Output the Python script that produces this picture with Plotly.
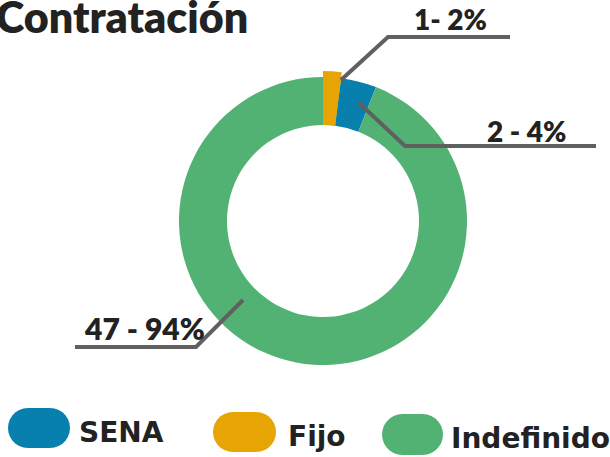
import math
import plotly.graph_objects as go

W, H = 610, 457

# Data
categories = ["Fijo", "SENA", "Indefinido"]
values = [1, 2, 47]
percent_labels = ["1- 2%", "2 - 4%", "47 - 94%"]
colors = {"SENA": "#0780AE", "Fijo": "#E6A503", "Indefinido": "#52B273"}
legend_order = ["SENA", "Fijo", "Indefinido"]

FONT = "Lato"
LEG_FONT = "DejaVu Sans"
TXT = "#222222"
LINE = "#606060"

def px(x):
    return x / W

def py(y):
    return 1 - y / H

CX, CY, R_OUT, R_IN = 323, 221, 144, 96

fig = go.Figure()
fig.add_trace(go.Pie(
    labels=categories, values=values, hole=R_IN / R_OUT, sort=False,
    direction="clockwise", rotation=0,
    marker=dict(colors=[colors[c] for c in categories], line=dict(width=0)),
    textinfo="none", hoverinfo="label+value+percent", showlegend=False,
    domain=dict(x=[px(CX - R_OUT), px(CX + R_OUT)], y=[py(CY + R_OUT), py(CY - R_OUT)]),
))
# Highlighted Fijo slice drawn slightly larger, as in the reference
R_HI = R_OUT + 6
fig.add_trace(go.Pie(
    labels=categories, values=values, hole=R_IN / R_HI, sort=False,
    direction="clockwise", rotation=0,
    marker=dict(colors=[colors[c] if c == "Fijo" else "rgba(0,0,0,0)" for c in categories],
                line=dict(width=0)),
    textinfo="none", hoverinfo="skip", showlegend=False,
    domain=dict(x=[px(CX - R_HI), px(CX + R_HI)], y=[py(CY + R_HI), py(CY - R_HI)]),
))

shapes = []
annotations = []

# Title (cropped at top-left as in the reference)
annotations.append(dict(
    text="Contratación", x=px(-6), y=py(17), xref="paper", yref="paper",
    xanchor="left", yanchor="middle", showarrow=False,
    font=dict(family=FONT, size=43, color=TXT, weight=800),
))

# Leader lines and labels
leaders = [
    [(341, 80), (388, 37), (510, 37)],
    [(358, 102), (405, 146), (596, 146)],
    [(243, 300), (196, 347), (75, 347)],
]
label_pos = [(450, 19, 28), (526, 131, 28), (144, 328, 30)]
for pts, lab, (lx, ly, fs) in zip(leaders, percent_labels, label_pos):
    path = "M " + " L ".join(f"{px(x):.5f},{py(y):.5f}" for x, y in pts)
    shapes.append(dict(type="path", path=path, xref="paper", yref="paper",
                       line=dict(color=LINE, width=4)))
    annotations.append(dict(
        text=lab, x=px(lx), y=py(ly), xref="paper", yref="paper",
        xanchor="center", yanchor="middle", showarrow=False,
        font=dict(family=FONT, size=fs, color=TXT, weight=800),
    ))

# Custom legend with pill-shaped swatches
def pill(x0, y0, x1, y1):
    r = (y1 - y0) / 2
    pts = []
    n = 14
    cy = (y0 + y1) / 2
    cxr = x1 - r
    for i in range(n + 1):
        a = -math.pi / 2 + math.pi * i / n
        pts.append((cxr + r * math.cos(a), cy + r * math.sin(a)))
    cxl = x0 + r
    for i in range(n + 1):
        a = math.pi / 2 + math.pi * i / n
        pts.append((cxl + r * math.cos(a), cy + r * math.sin(a)))
    return "M " + " L ".join(f"{px(x):.5f},{py(y):.5f}" for x, y in pts) + " Z"

legend_boxes = [(8, 408, 70, 448), (213, 412, 276, 452), (382, 414, 443, 455)]
legend_text_x = [77, 286, 449]
legend_text_y = [432, 436, 438]
for name, (x0, y0, x1, y1), tx, ty in zip(legend_order, legend_boxes, legend_text_x, legend_text_y):
    shapes.append(dict(type="path", path=pill(x0, y0, x1, y1), xref="paper", yref="paper",
                       fillcolor=colors[name], line=dict(width=0)))
    annotations.append(dict(
        text=f"<b>{name}</b>", x=px(tx), y=py(ty), xref="paper", yref="paper",
        xanchor="left", yanchor="middle", showarrow=False,
        font=dict(family=LEG_FONT, size=28, color=TXT),
    ))

fig.update_layout(
    width=W, height=H,
    margin=dict(l=0, r=0, t=0, b=0),
    paper_bgcolor="white", plot_bgcolor="white",
    shapes=shapes, annotations=annotations,
    showlegend=False,
)

fig.write_html("out.html", config={"displayModeBar": False},
               post_script="document.body.style.margin='0';document.body.style.overflow='hidden';")
